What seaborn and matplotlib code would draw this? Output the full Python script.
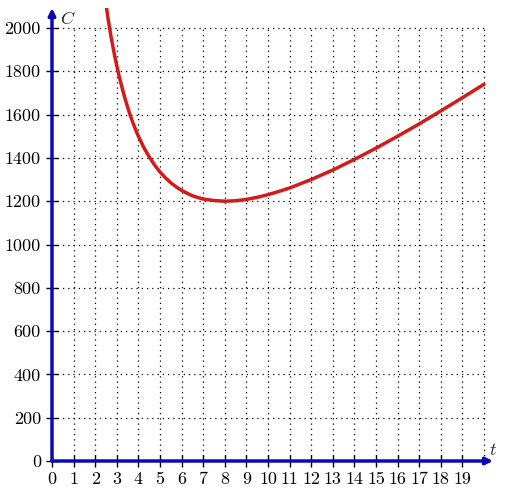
import numpy as np
import pandas as pd
import matplotlib
matplotlib.use("Agg")
import matplotlib.pyplot as plt
import seaborn as sns

sns.set_style("white")
plt.rcParams['font.family'] = ['cmr10', 'DejaVu Serif']
plt.rcParams['mathtext.fontset'] = 'cm'
plt.rcParams['axes.formatter.use_mathtext'] = True

# valores
t = [2.5, 2.6, 2.75, 2.9, 3, 3.1, 3.25, 3.4, 3.5, 3.6, 3.75, 3.9, 4, 4.25, 4.5,
     4.75, 5, 5.25, 5.5, 5.75, 6, 6.25, 6.5, 6.75, 7, 7.5, 8, 8.5,
     9, 9.5, 10, 10.5, 11, 12, 13, 14, 15, 16, 17, 18, 19, 20]
C = [2110, 2040, 1950, 1872, 1825, 1780, 1722, 1667, 1635, 1603, 1561, 1523,
     1500, 1448, 1405, 1367, 1335, 1308, 1285, 1266, 1250, 1237, 1225, 1217,
     1210, 1203, 1200, 1202, 1208, 1218, 1230, 1245, 1261, 1300, 1344, 1393,
     1445, 1500, 1557, 1617, 1678, 1740]
xticks = list(range(0, 20))
yticks = list(range(0, 2001, 200))

DF = pd.DataFrame({'t': t, 'C': C})

W, H = 507, 492
fig = plt.figure(figsize=(W / 100, H / 100), dpi=100)
ax = fig.add_axes([52 / W, 31 / H, 441 / W, 453 / H])
ax.set_xlim(0, 441 / 21.6)
ax.set_ylim(0, 453 / 43.3 * 200)

azul = '#0a0ab4'
rojo = '#d41a1a'

# rejilla punteada
ax.vlines(range(1, 21), 0, 2000, colors='black', linestyles=(0, (1, 3.2)), lw=0.9, zorder=1)
ax.hlines(yticks[1:], 0, 20, colors='black', linestyles=(0, (1, 3.2)), lw=0.9, zorder=1)

sns.lineplot(data=DF, x='t', y='C', ax=ax, color=rojo, lw=2.5, zorder=3)

for s in ax.spines.values():
    s.set_visible(False)

# ejes con flecha
ax.annotate('', xy=(441 / 21.6, 0), xytext=(0, 0),
            arrowprops=dict(arrowstyle='-|>', color=azul, lw=2.5, mutation_scale=10,
                            shrinkA=0, shrinkB=0), annotation_clip=False, zorder=4)
ax.annotate('', xy=(0, 453 / 43.3 * 200), xytext=(0, 0),
            arrowprops=dict(arrowstyle='-|>', color=azul, lw=2.5, mutation_scale=10,
                            shrinkA=0, shrinkB=0), annotation_clip=False, zorder=4)

ax.set_xticks(xticks)
ax.set_yticks(yticks)
ax.set_xticklabels([str(v) for v in xticks])
ax.set_yticklabels([str(v) for v in yticks])
ax.tick_params(direction='inout', length=8, width=1, colors='black', labelsize=13,
               bottom=True, left=True, pad=4)
ax.set_xlabel('')
ax.set_ylabel('')
ax.text(0.35, 453 / 43.3 * 200 - 10, '$C$', fontsize=13, va='top', ha='left')
ax.text(441 / 21.6, 15, '$t$', fontsize=13, va='bottom', ha='center')

fig.savefig('out.png', dpi=100)
